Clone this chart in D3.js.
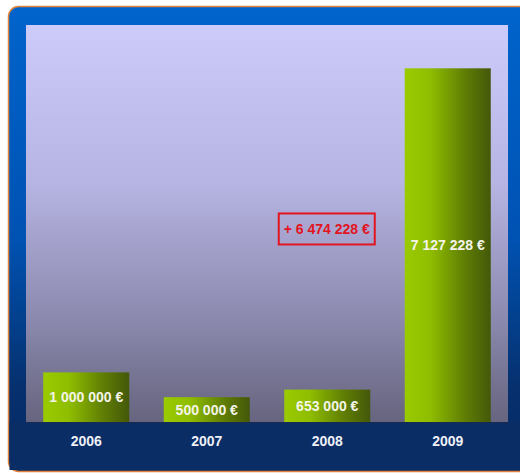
<!DOCTYPE html>
<html><head><meta charset="utf-8">
<script src="https://cdn.jsdelivr.net/npm/d3@7"></script>
<style>html,body{margin:0;padding:0;background:#fff;}svg{display:block;}</style>
</head><body><svg id="c" width="520" height="473"></svg>
<script>
const years = ["2006", "2007", "2008", "2009"];
const amounts = [1000000, 500000, 653000, 7127228];
const barLabels = ["1 000 000 €", "500 000 €", "653 000 €", "7 127 228 €"];
const annotationText = "+ 6 474 228 €";

const svg = d3.select("#c");
const defs = svg.append("defs");

const frameGrad = defs.append("linearGradient").attr("id","frame").attr("x1",0).attr("y1",0).attr("x2",0).attr("y2",1);
frameGrad.append("stop").attr("offset","0%").attr("stop-color","#0064cc");
frameGrad.append("stop").attr("offset","50%").attr("stop-color","#0052b2");
frameGrad.append("stop").attr("offset","82%").attr("stop-color","#06306e");
frameGrad.append("stop").attr("offset","100%").attr("stop-color","#062a62");

const plotGrad = defs.append("linearGradient").attr("id","plotbg").attr("x1",0).attr("y1",0).attr("x2",0).attr("y2",1);
plotGrad.append("stop").attr("offset","0%").attr("stop-color","#cdcbf9");
plotGrad.append("stop").attr("offset","40%").attr("stop-color","#b6b4e2");
plotGrad.append("stop").attr("offset","75%").attr("stop-color","#8a88ac");
plotGrad.append("stop").attr("offset","100%").attr("stop-color","#66647e");

const barGrad = defs.append("linearGradient").attr("id","bar").attr("x1",0).attr("y1",0).attr("x2",1).attr("y2",0);
barGrad.append("stop").attr("offset","0%").attr("stop-color","#9acb00");
barGrad.append("stop").attr("offset","30%").attr("stop-color","#8fbd00");
barGrad.append("stop").attr("offset","70%").attr("stop-color","#5f7d04");
barGrad.append("stop").attr("offset","100%").attr("stop-color","#44580a");

// Frame
svg.append("rect").attr("x",8.5).attr("y",6.5).attr("width",520).attr("height",465)
  .attr("rx",10).attr("fill","url(#frame)").attr("stroke","#e0823a").attr("stroke-width",1.5);
// Bottom navy area
svg.append("rect").attr("x",9.5).attr("y",422).attr("width",511).attr("height",48).attr("fill","#0a2d66");

const plot = {left:26, right:508, top:25, bottom:422};
svg.append("rect").attr("x",plot.left).attr("y",plot.top).attr("width",plot.right-plot.left)
  .attr("height",plot.bottom-plot.top).attr("fill","url(#plotbg)");

const x = d3.scaleBand().domain(years).range([plot.left, plot.right]).paddingInner(0.286).paddingOuter(0.143);
const y = d3.scaleLinear().domain([0, 8000000]).range([plot.bottom, plot.top]);

const g = svg.append("g");
g.selectAll("rect.bar").data(years).join("rect").attr("class","bar")
  .attr("x", d => x(d)).attr("width", x.bandwidth())
  .attr("y", (d,i) => y(amounts[i])).attr("height", (d,i) => y(0) - y(amounts[i]))
  .attr("fill","url(#bar)");

g.selectAll("text.val").data(years).join("text").attr("class","val")
  .attr("x", d => x(d) + x.bandwidth()/2)
  .attr("y", (d,i) => (y(amounts[i]) + y(0))/2)
  .attr("dy","0.36em").attr("text-anchor","middle")
  .attr("font-family","Arial, 'Liberation Sans', sans-serif").attr("font-weight","bold").attr("font-size","14px")
  .attr("fill","#f4f4ea")
  .text((d,i) => barLabels[i]);

// Axis
const axis = svg.append("g").attr("transform",`translate(0,${plot.bottom})`)
  .call(d3.axisBottom(x).tickSize(0).tickPadding(14));
axis.select(".domain").attr("stroke","#1a2a50").attr("stroke-width",1);
axis.selectAll("text").attr("font-family","Arial, 'Liberation Sans', sans-serif").attr("font-weight","bold")
  .attr("font-size","14px").attr("fill","#eef0f6");

// Annotation
const annX = x("2008") + x.bandwidth()/2 - 0.5;
const annY = y(3890000);
svg.append("rect").attr("x", annX - 48).attr("y", annY - 15.5).attr("width", 96).attr("height", 31)
  .attr("fill","none").attr("stroke","#e2141e").attr("stroke-width",2);
svg.append("text").attr("x", annX).attr("y", annY).attr("dy","0.36em").attr("text-anchor","middle")
  .attr("font-family","Arial, 'Liberation Sans', sans-serif").attr("font-weight","bold").attr("font-size","14px")
  .attr("fill","#e2141e").text(annotationText);
</script></body></html>
